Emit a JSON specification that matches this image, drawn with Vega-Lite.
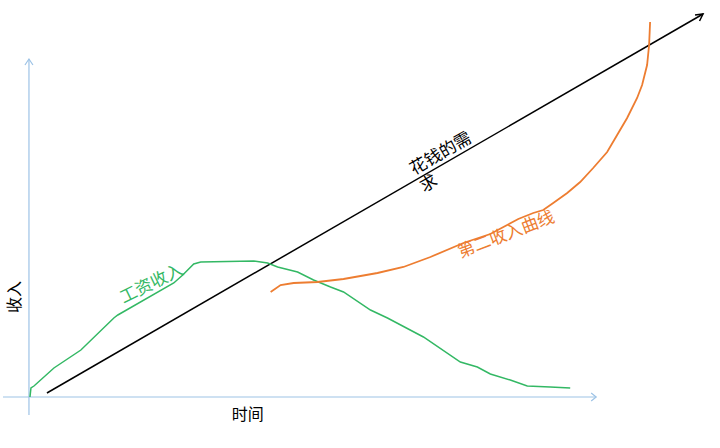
{
  "$schema": "https://vega.github.io/schema/vega-lite/v6.json",
  "width": 720,
  "height": 448,
  "autosize": {"type": "fit", "contains": "padding"},
  "padding": 0,
  "background": "white",
  "config": {"view": {"stroke": null}, "font": "Noto Sans CJK SC"},
  "datasets": {
    "lines": [
      {"s": "axisY", "seg": 0, "i": 0, "t": 0, "v": -18},
      {"s": "axisY", "seg": 0, "i": 1, "t": 0, "v": 338},
      {"s": "axisY", "seg": 1, "i": 0, "t": -4, "v": 332},
      {"s": "axisY", "seg": 1, "i": 1, "t": 0, "v": 338},
      {"s": "axisY", "seg": 1, "i": 2, "t": 4, "v": 332},
      {"s": "axisX", "seg": 0, "i": 0, "t": -26, "v": 0},
      {"s": "axisX", "seg": 0, "i": 1, "t": 568, "v": 0},
      {"s": "axisX", "seg": 1, "i": 0, "t": 563, "v": 4},
      {"s": "axisX", "seg": 1, "i": 1, "t": 568, "v": 0},
      {"s": "axisX", "seg": 1, "i": 2, "t": 563, "v": -4},
      {"s": "demand", "seg": 0, "i": 0, "t": 18, "v": 4},
      {"s": "demand", "seg": 0, "i": 1, "t": 675, "v": 383},
      {"s": "demand", "seg": 1, "i": 0, "t": 667, "v": 382},
      {"s": "demand", "seg": 1, "i": 1, "t": 675, "v": 383},
      {"s": "demand", "seg": 1, "i": 2, "t": 671.5, "v": 376},
      {"s": "wage", "seg": 0, "i": 0, "t": 1, "v": 0},
      {"s": "wage", "seg": 0, "i": 1, "t": 2, "v": 9},
      {"s": "wage", "seg": 0, "i": 2, "t": 5, "v": 11},
      {"s": "wage", "seg": 0, "i": 3, "t": 25, "v": 29},
      {"s": "wage", "seg": 0, "i": 4, "t": 52, "v": 47},
      {"s": "wage", "seg": 0, "i": 5, "t": 85, "v": 79},
      {"s": "wage", "seg": 0, "i": 6, "t": 89, "v": 82},
      {"s": "wage", "seg": 0, "i": 7, "t": 145, "v": 114},
      {"s": "wage", "seg": 0, "i": 8, "t": 154, "v": 122},
      {"s": "wage", "seg": 0, "i": 9, "t": 165, "v": 133},
      {"s": "wage", "seg": 0, "i": 10, "t": 172, "v": 135},
      {"s": "wage", "seg": 0, "i": 11, "t": 225, "v": 136},
      {"s": "wage", "seg": 0, "i": 12, "t": 239, "v": 134},
      {"s": "wage", "seg": 0, "i": 13, "t": 249, "v": 130},
      {"s": "wage", "seg": 0, "i": 14, "t": 269, "v": 125},
      {"s": "wage", "seg": 0, "i": 15, "t": 285, "v": 117},
      {"s": "wage", "seg": 0, "i": 16, "t": 302, "v": 110},
      {"s": "wage", "seg": 0, "i": 17, "t": 315, "v": 105},
      {"s": "wage", "seg": 0, "i": 18, "t": 342, "v": 87},
      {"s": "wage", "seg": 0, "i": 19, "t": 359, "v": 79},
      {"s": "wage", "seg": 0, "i": 20, "t": 395, "v": 60},
      {"s": "wage", "seg": 0, "i": 21, "t": 432, "v": 35},
      {"s": "wage", "seg": 0, "i": 22, "t": 449, "v": 30},
      {"s": "wage", "seg": 0, "i": 23, "t": 462, "v": 23},
      {"s": "wage", "seg": 0, "i": 24, "t": 482, "v": 17},
      {"s": "wage", "seg": 0, "i": 25, "t": 499, "v": 11},
      {"s": "wage", "seg": 0, "i": 26, "t": 522, "v": 10},
      {"s": "wage", "seg": 0, "i": 27, "t": 542, "v": 9},
      {"s": "second", "seg": 0, "i": 0, "t": 242, "v": 105},
      {"s": "second", "seg": 0, "i": 1, "t": 252, "v": 112},
      {"s": "second", "seg": 0, "i": 2, "t": 265, "v": 114},
      {"s": "second", "seg": 0, "i": 3, "t": 289, "v": 115},
      {"s": "second", "seg": 0, "i": 4, "t": 315, "v": 118},
      {"s": "second", "seg": 0, "i": 5, "t": 349, "v": 124},
      {"s": "second", "seg": 0, "i": 6, "t": 375, "v": 130},
      {"s": "second", "seg": 0, "i": 7, "t": 402, "v": 140},
      {"s": "second", "seg": 0, "i": 8, "t": 435, "v": 154},
      {"s": "second", "seg": 0, "i": 9, "t": 462, "v": 163},
      {"s": "second", "seg": 0, "i": 10, "t": 490, "v": 178},
      {"s": "second", "seg": 0, "i": 11, "t": 505, "v": 184},
      {"s": "second", "seg": 0, "i": 12, "t": 515, "v": 187},
      {"s": "second", "seg": 0, "i": 13, "t": 525, "v": 194},
      {"s": "second", "seg": 0, "i": 14, "t": 539, "v": 204},
      {"s": "second", "seg": 0, "i": 15, "t": 552, "v": 215},
      {"s": "second", "seg": 0, "i": 16, "t": 565, "v": 229},
      {"s": "second", "seg": 0, "i": 17, "t": 579, "v": 245},
      {"s": "second", "seg": 0, "i": 18, "t": 589, "v": 262},
      {"s": "second", "seg": 0, "i": 19, "t": 599, "v": 279},
      {"s": "second", "seg": 0, "i": 20, "t": 609, "v": 299},
      {"s": "second", "seg": 0, "i": 21, "t": 614, "v": 312},
      {"s": "second", "seg": 0, "i": 22, "t": 619, "v": 332},
      {"s": "second", "seg": 0, "i": 23, "t": 621, "v": 352},
      {"s": "second", "seg": 0, "i": 24, "t": 622, "v": 375}
    ],
    "labels": [
      {"k": "yTitle", "text": "收入", "t": -14, "v": 100},
      {"k": "xTitle", "text": "时间", "t": 219, "v": -18},
      {"k": "wage", "text": "工资收入", "t": 123, "v": 113},
      {"k": "second", "text": "第二收入曲线", "t": 478, "v": 162},
      {"k": "demand", "text": "花钱的需\n求", "t": 379, "v": 233}
    ]
  },
  "encoding": {
    "x": {"field": "t", "type": "quantitative", "scale": {"domain": [-28, 692], "nice": false, "zero": false}, "axis": null},
    "y": {"field": "v", "type": "quantitative", "scale": {"domain": [-51, 397], "nice": false, "zero": false}, "axis": null}
  },
  "layer": [
    {
      "data": {"name": "lines"},
      "transform": [{"filter": "datum.s === 'axisY' || datum.s === 'axisX'"}],
      "mark": {"type": "line", "color": "#9DC3E6", "strokeWidth": 1.2},
      "encoding": {"detail": [{"field": "s", "type": "nominal"}, {"field": "seg", "type": "nominal"}], "order": {"field": "i", "type": "quantitative"}}
    },
    {
      "data": {"name": "lines"},
      "transform": [{"filter": "datum.s === 'demand'"}],
      "mark": {"type": "line", "color": "#000000", "strokeWidth": 1.5},
      "encoding": {"detail": {"field": "seg", "type": "nominal"}, "order": {"field": "i", "type": "quantitative"}}
    },
    {
      "data": {"name": "lines"},
      "transform": [{"filter": "datum.s === 'wage'"}],
      "mark": {"type": "line", "color": "#33B864", "strokeWidth": 1.5},
      "encoding": {"order": {"field": "i", "type": "quantitative"}}
    },
    {
      "data": {"name": "lines"},
      "transform": [{"filter": "datum.s === 'second'"}],
      "mark": {"type": "line", "color": "#ED7D31", "strokeWidth": 1.8},
      "encoding": {"order": {"field": "i", "type": "quantitative"}}
    },
    {
      "data": {"name": "labels"},
      "transform": [{"filter": "datum.k === 'yTitle'"}],
      "mark": {"type": "text", "angle": 270, "fontSize": 16, "color": "#000000", "align": "center", "baseline": "middle"},
      "encoding": {"text": {"field": "text"}}
    },
    {
      "data": {"name": "labels"},
      "transform": [{"filter": "datum.k === 'xTitle'"}],
      "mark": {"type": "text", "fontSize": 16, "color": "#000000", "align": "center", "baseline": "middle"},
      "encoding": {"text": {"field": "text"}}
    },
    {
      "data": {"name": "labels"},
      "transform": [{"filter": "datum.k === 'wage'"}],
      "mark": {"type": "text", "angle": 334, "fontSize": 17, "color": "#33B864", "align": "center", "baseline": "middle"},
      "encoding": {"text": {"field": "text"}}
    },
    {
      "data": {"name": "labels"},
      "transform": [{"filter": "datum.k === 'second'"}],
      "mark": {"type": "text", "angle": 339, "fontSize": 17, "color": "#ED7D31", "align": "center", "baseline": "middle"},
      "encoding": {"text": {"field": "text"}}
    },
    {
      "data": {"name": "labels"},
      "transform": [{"filter": "datum.k === 'demand'"}],
      "mark": {"type": "text", "angle": 330, "fontSize": 17, "color": "#000000", "align": "left", "baseline": "top", "lineBreak": "\n", "lineHeight": 20},
      "encoding": {"text": {"field": "text"}}
    }
  ]
}
